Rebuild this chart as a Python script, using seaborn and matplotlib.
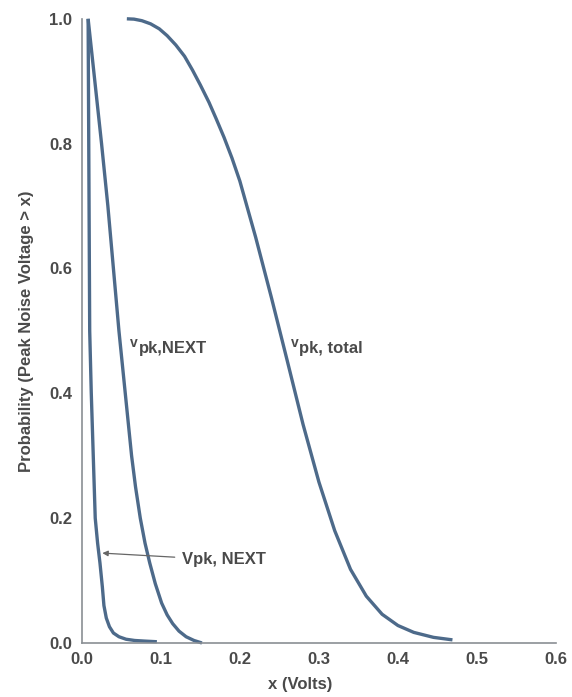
import matplotlib
matplotlib.use("Agg")
import matplotlib.pyplot as plt
import seaborn as sns
import pandas as pd

# curve data (x in volts, probability)
x_next_single = [0.008, 0.009, 0.010, 0.012, 0.0145, 0.017, 0.020, 0.023, 0.026, 0.028, 0.031, 0.035, 0.040, 0.047, 0.056, 0.067, 0.080, 0.095]
p_next_single = [1.0, 0.75, 0.5, 0.4, 0.3, 0.2, 0.16, 0.128, 0.09, 0.06, 0.04, 0.026, 0.016, 0.010, 0.006, 0.004, 0.003, 0.002]

x_next = [0.008, 0.0165, 0.025, 0.033, 0.040, 0.047, 0.055, 0.063, 0.068, 0.074, 0.080, 0.086, 0.093, 0.101, 0.108, 0.115, 0.123, 0.132, 0.142, 0.152]
p_next = [1.0, 0.9, 0.8, 0.7, 0.6, 0.5, 0.4, 0.3, 0.25, 0.2, 0.16, 0.128, 0.095, 0.064, 0.045, 0.031, 0.019, 0.010, 0.004, 0.0]

x_total = [0.057, 0.066, 0.076, 0.087, 0.098, 0.108, 0.119, 0.130, 0.140, 0.150, 0.161, 0.170, 0.180, 0.190, 0.200, 0.220, 0.240, 0.260, 0.280, 0.300, 0.320, 0.340, 0.360, 0.380, 0.400, 0.420, 0.445, 0.469]
p_total = [1.0, 0.9995, 0.997, 0.992, 0.984, 0.973, 0.958, 0.94, 0.918, 0.894, 0.866, 0.840, 0.810, 0.777, 0.740, 0.650, 0.553, 0.452, 0.350, 0.258, 0.180, 0.118, 0.075, 0.046, 0.028, 0.017, 0.009, 0.005]

x_ticks = [0.0, 0.1, 0.2, 0.3, 0.4, 0.5, 0.6]
y_ticks = [0.0, 0.2, 0.4, 0.6, 0.8, 1.0]

sns.set_style("white")
plt.rcParams['font.family'] = ['Liberation Sans', 'DejaVu Sans']

line_color = '#4d6a8a'
text_color = '#4a4a4a'
axis_color = '#8a8f94'

fig = plt.figure(figsize=(5.72, 6.97), dpi=100)
ax = fig.add_axes([0.143, 0.0775, 0.829, 0.8955])

curves = [(x_next_single, p_next_single), (x_next, p_next), (x_total, p_total)]
for xs, ps in curves:
    df = pd.DataFrame({'x': xs, 'p': ps})
    sns.lineplot(data=df, x='x', y='p', sort=False, estimator=None, ax=ax,
                 color=line_color, linewidth=2.4, clip_on=False,
                 solid_capstyle='butt', solid_joinstyle='round')

ax.set_xlim(0, 0.6)
ax.set_ylim(0, 1.0)
ax.set_xticks(x_ticks)
ax.set_yticks(y_ticks)
ax.set_xticklabels([f'{t:.1f}' for t in x_ticks])
ax.set_yticklabels([f'{t:.1f}' for t in y_ticks])

sns.despine(ax=ax)
for side in ['left', 'bottom']:
    ax.spines[side].set_color(axis_color)
    ax.spines[side].set_linewidth(1.2)

ax.tick_params(axis='x', direction='inout', length=9, width=1, color=axis_color,
               labelsize=12, labelcolor=text_color, pad=2)
ax.tick_params(axis='y', direction='out', length=5, width=1, color=axis_color,
               labelsize=12, labelcolor=text_color, pad=2)
for lbl in ax.get_xticklabels() + ax.get_yticklabels():
    lbl.set_fontweight('bold')

ax.set_xlabel('x (Volts)', fontsize=12, fontweight='bold', color=text_color)
ax.xaxis.set_label_coords(0.46, -0.055)
ax.set_ylabel('Probability (Peak Noise Voltage > x)', fontsize=12,
              fontweight='bold', color=text_color)
ax.yaxis.set_label_coords(-0.1, 0.5)

# curve labels: small raised "v" followed by "pk,..." text
for (lx, ly), rest in [((0.061, 0.474), 'pk,NEXT'), ((0.264, 0.474), 'pk, total')]:
    ax.annotate('v', xy=(lx, ly), xytext=(0, 3), textcoords='offset points',
                fontsize=10, fontweight='bold', color=text_color, va='center', ha='left')
    ax.annotate(rest, xy=(lx, ly), xytext=(6.5, -1), textcoords='offset points',
                fontsize=12, fontweight='bold', color=text_color, va='center', ha='left')

ax.annotate('Vpk, NEXT', xy=(0.026, 0.144), xytext=(0.127, 0.133),
            fontsize=12, fontweight='bold', color=text_color, va='center', ha='left',
            arrowprops=dict(arrowstyle='-|>', color='#666666', lw=0.9,
                            mutation_scale=8, shrinkA=3, shrinkB=0))

fig.savefig('out.png', dpi=100)
